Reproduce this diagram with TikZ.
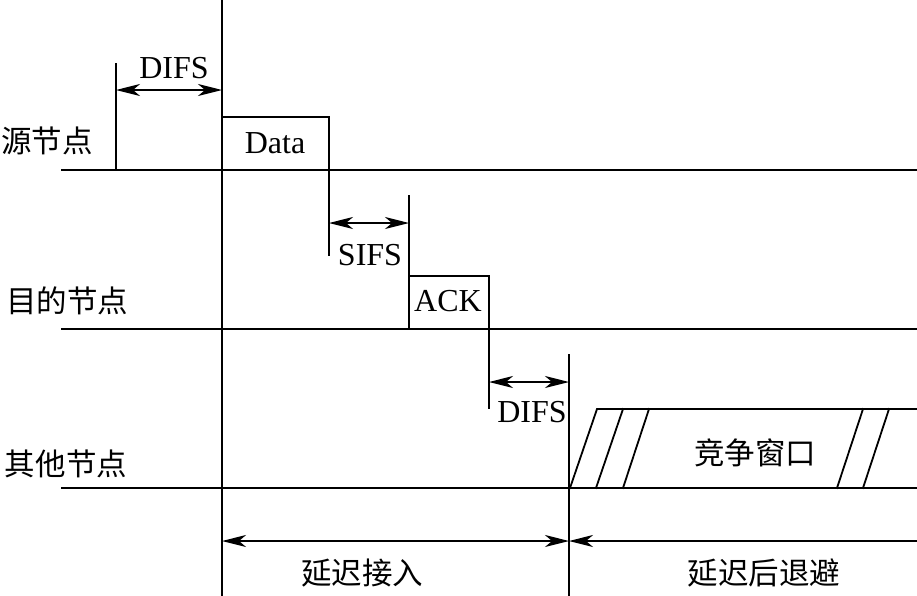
\documentclass[tikz,border=0pt]{standalone}
\usepackage{fontspec}
\setmainfont{Liberation Serif}
\newfontfamily\cjk{Noto Sans CJK SC}
\usetikzlibrary{arrows.meta}
\begin{document}
\begin{tikzpicture}[x=1pt,y=-1pt,
  ln/.style={line width=1.8pt,line cap=rect},
  tipx/.tip={Stealth[length=24pt,width=12pt,inset=7pt]},
  dimarrow/.style={line width=1.8pt,tipx-tipx},
  larrow/.style={line width=1.8pt,tipx-},
  lat/.style={font=\fontsize{32}{34}\selectfont,inner sep=0pt},
  cn/.style={font=\cjk\fontsize{30.5}{34}\selectfont,inner sep=0pt}]
\useasboundingbox (0,0) rectangle (917,595);
% named coordinates
\coordinate (sL) at (62,170);  \coordinate (sR) at (917,170);
\coordinate (dL) at (62,329);  \coordinate (dR) at (917,329);
\coordinate (oL) at (62,488);  \coordinate (oR) at (917,488);
\coordinate (vT) at (222,0);   \coordinate (vB) at (222,595);
\coordinate (wT) at (569,355); \coordinate (wB) at (569,595);
% baselines
\draw[ln] (sL) -- (sR);
\draw[ln] (dL) -- (dR);
\draw[ln] (oL) -- (oR);
% main verticals
\draw[ln] (vT) -- (vB);
\draw[ln] (wT) -- (wB);
% source: DIFS marker
\coordinate (d1T) at (116,64); \coordinate (d1B) at (116,170);
\draw[ln] (d1T) -- (d1B);
\coordinate (d1a) at (116,90); \coordinate (d1b) at (222,90);
\draw[dimarrow] (d1a) -- (d1b);
\node[lat] (difs1) at (174,68) {DIFS};
% Data frame
\coordinate (da1) at (222,117); \coordinate (da2) at (329,117); \coordinate (da3) at (329,255);
\draw[ln] (da1) -- (da2) -- (da3);
\node[lat] (data) at (275,143) {Data};
% SIFS
\coordinate (s1) at (329,223); \coordinate (s2) at (409,223);
\draw[dimarrow] (s1) -- (s2);
\node[lat] (sifs) at (370,255) {SIFS};
% ACK frame
\coordinate (ak0) at (409,196); \coordinate (ak1) at (409,329);
\coordinate (ak2) at (409,276); \coordinate (ak3) at (489,276); \coordinate (ak4) at (489,408);
\draw[ln] (ak0) -- (ak1);
\draw[ln] (ak2) -- (ak3) -- (ak4);
\node[lat] (ack) at (448,301) {ACK};
% DIFS 2
\coordinate (f1) at (489,382); \coordinate (f2) at (569,382);
\draw[dimarrow] (f1) -- (f2);
\node[lat] (difs2) at (532,412) {DIFS};
% contention window
\coordinate (c0) at (570,488); \coordinate (c0t) at (597,409);
\coordinate (cR) at (917,409);
\draw[ln] (c0) -- (c0t) -- (cR);
\draw[ln] (596,488) -- (623,409);
\draw[ln] (623,488) -- (649,409);
\draw[ln] (837,488) -- (863,409);
\draw[ln] (863,488) -- (889,409);
\node[cn] (cw) at (755,453) {竞争窗口};
% bottom arrows
\coordinate (b1) at (222,541); \coordinate (b2) at (569,541); \coordinate (b3) at (917,541);
\draw[dimarrow] (b1) -- (b2);
\draw[larrow] (b2) -- (b3);
\node[cn] (defer) at (362,573) {延迟接入};
\node[cn] (backoff) at (764,573) {延迟后退避};
% row labels
\node[cn] (src) at (47,141) {源节点};
\node[cn] (dst) at (67,301) {目的节点};
\node[cn] (oth) at (66,464) {其他节点};
\end{tikzpicture}
\end{document}
